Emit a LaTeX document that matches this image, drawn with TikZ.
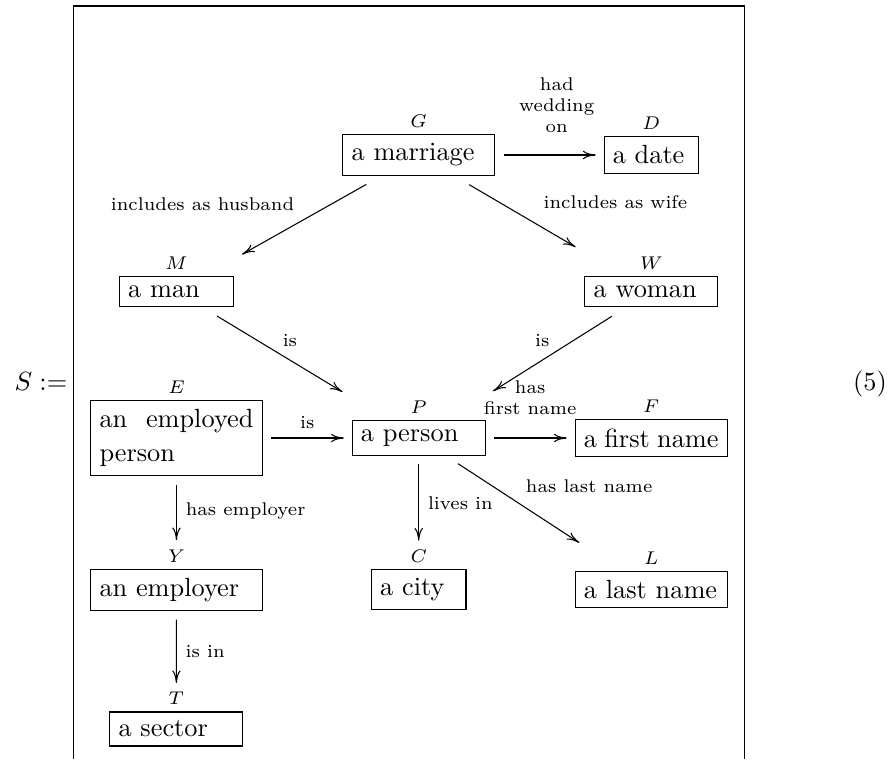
\documentclass[tikz,border=0pt]{standalone}
\usepackage{amsmath,amssymb}
\usepackage{tikz}
\usetikzlibrary{arrows.meta}

\begin{document}
\begin{tikzpicture}[concept/.style={draw, inner sep=3.33pt, align=justify, text width=#1},
    tag/.style={font=\scriptsize, inner sep=1pt},
    rel/.style={font=\scriptsize},
    arr/.style={-{To[length=4.8pt,width=3.2pt]}, shorten <=3.3pt, shorten >=3pt},
    down/.style={arr, shorten >=10.8pt},
    diag/.style={arr, shorten <=6.8pt, shorten >=20.8pt},
    label distance=1.3pt]
    \useasboundingbox (0,0) rectangle (11.873,10.137);
    % frame round the graph
    \draw (0.984,0) -- (0.984,10.057) -- (9.941,10.057) -- (9.941,0);
    \node[inner sep=0, anchor=base west] (lhs) at (0.187,4.92) {$S :=$};
    \node[inner sep=0, anchor=base east] (eqno) at (11.851,4.92) {(5)};

    \node[concept=50.9pt, label={[tag]above:$G$}] (G) at (5.590, 8.067) {a marriage};
    \node[concept=29.3pt, label={[tag]above:$D$}] (D) at (8.699, 8.067) {a date};
    \node[concept=36.6pt, label={[tag]above:$M$}] (M) at (2.355, 6.245) {a man};
    \node[concept=43.9pt, label={[tag]above:$W$}] (W) at (8.699, 6.245) {a woman};
    \node[concept=58.5pt, font=\fontsize{10}{13.2}\selectfont, label={[tag]above:$E$}] (E) at (2.357, 4.287) {an employed person};
    \node[concept=43.9pt, label={[tag]above:$P$}] (P) at (5.592, 4.287) {a person};
    \node[concept=51.2pt, label={[tag]above:$F$}] (F) at (8.697, 4.287) {a first name};
    \node[concept=58.5pt, label={[tag]above:$Y$}] (Y) at (2.357, 2.261) {an employer};
    \node[concept=29.3pt, label={[tag]above:$C$}] (C) at (5.592, 2.261) {a city};
    \node[concept=51.2pt, label={[tag]above:$L$}] (L) at (8.699, 2.261) {a last name};
    \node[concept=43.9pt, label={[tag]above:$T$}] (T) at (2.355, 0.401) {a sector};

    \draw[arr] (G) -- node[rel, above, pos=0.57, align=center, yshift=5pt] (wed) {had\\wedding\\on} (D);
    \draw[diag, shorten >=16.8pt] (G) -- node[rel, above left, pos=0.44] (hus) {includes as husband} (M);
    \draw[diag, shorten >=21.8pt] (G) -- node[rel, above right, pos=0.47, yshift=2pt] (wif) {includes as wife} (W);
    \draw[diag] (M) -- node[rel, above, pos=0.47, yshift=1.5pt] (isM) {is} (P);
    \draw[diag] (W) -- node[rel, above, pos=0.47, yshift=1.5pt] (isW) {is} (P);
    \draw[arr] (E) -- node[rel, above] (isE) {is} (P);
    \draw[arr] (P) -- node[rel, above, align=center, yshift=5.5pt] (fst) {has\\first name} (F);
    \draw[down] (E) -- node[rel, right, pos=0.38] (emp) {has employer} (Y);
    \draw[down] (Y) -- node[rel, right, pos=0.4] (sec) {is in} (T);
    \draw[down] (P) -- node[rel, right, pos=0.42] (liv) {lives in} (C);
    \draw[diag, shorten <=5.5pt, shorten >=19.8pt] (P) -- node[rel, above right, pos=0.4] (lst) {has last name} (L);
\end{tikzpicture}
\end{document}
